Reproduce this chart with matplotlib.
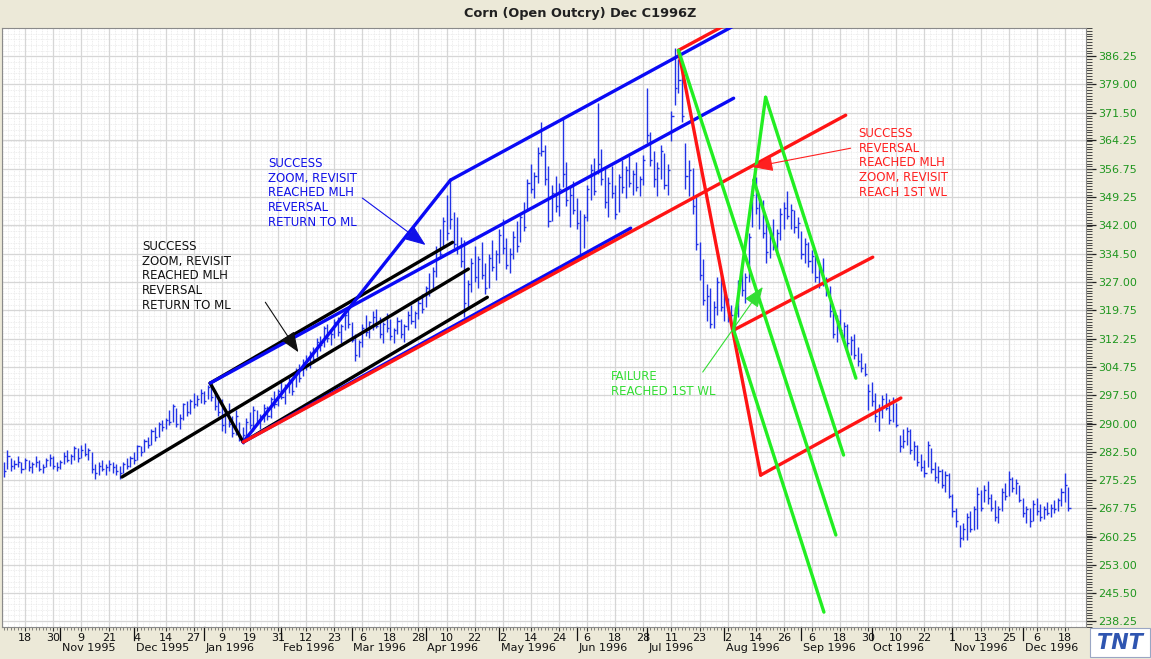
import numpy as np
import pandas as pd
import matplotlib
matplotlib.use("Agg")
import matplotlib.pyplot as plt
import matplotlib.transforms as mtransforms
from matplotlib.patches import Rectangle

# Trading calendar (exchange holidays removed)
first_day = "1995-10-10"
last_day = "1996-12-19"
holidays = ["1995-11-23", "1995-12-25", "1996-01-01", "1996-02-19", "1996-04-05",
            "1996-05-27", "1996-07-04", "1996-09-02", "1996-11-28"]

# Daily highs, one line per month (Oct 1995 .. Dec 1996)
highs = [
    280.0, 283.0, 281.0, 280.5, 281.5, 280.0, 281.0, 280.5, 280.0, 281.5, 280.5, 279.5, 281.0, 282.0, 281.5, 280.0,
    280.5, 282.5, 283.0, 282.0, 284.0, 283.5, 284.5, 285.0, 283.5, 282.5, 279.5, 280.0, 280.5, 279.5, 280.5, 280.0, 279.5, 279.0, 280.0, 281.0, 281.5,
    282.5, 284.5, 284.0, 286.0, 286.5, 288.5, 289.0, 290.5, 291.0, 291.5, 293.5, 295.0, 294.0, 292.5, 295.5, 296.0, 296.5, 298.0, 297.5, 299.0,
    298.5, 300.0, 300.5, 298.5, 297.0, 296.5, 294.0, 295.5, 292.0, 293.5, 290.5, 289.0, 291.5, 293.0, 294.5, 293.5, 292.5, 295.0, 294.5, 297.0, 298.5, 299.0,
    301.0, 300.5, 302.5, 302.0, 304.5, 305.5, 307.0, 308.0, 309.0, 310.0, 312.5, 313.0, 315.5, 316.0, 314.5, 317.5, 318.0, 316.0, 319.0, 320.0,
    316.5, 313.5, 312.0, 316.0, 318.5, 317.0, 319.5, 320.0, 318.0, 316.5, 319.0, 317.5, 315.0, 318.0, 317.5, 316.0, 319.5, 321.0, 319.5, 322.5, 324.0,
    326.0, 329.5, 331.0, 336.5, 341.0, 344.0, 350.0, 353.5, 345.5, 344.0, 339.0, 338.0, 327.5, 333.5, 336.5, 334.0, 337.5, 332.0, 334.5, 338.0, 335.5,
    341.0, 343.5, 338.5, 336.0, 340.5, 343.0, 345.0, 348.0, 354.0, 358.0, 356.0, 362.5, 369.0, 363.0, 357.5, 352.5, 355.0, 353.0, 370.0, 358.5, 352.0, 353.5,
    349.0, 346.0, 345.0, 352.5, 358.0, 359.5, 374.0, 362.0, 357.0, 354.5, 357.5, 352.5, 355.5, 359.0, 357.5, 360.0, 356.5, 358.5, 355.0, 360.5,
    378.0, 366.5, 361.5, 358.5, 363.0, 361.0, 358.0, 372.0, 388.5, 385.5, 383.5, 363.5, 359.0, 357.0, 349.5, 337.5, 333.0, 326.5, 325.5, 322.0, 328.5, 330.0,
    325.5, 323.0, 321.0, 320.5, 327.5, 331.0, 329.5, 340.0, 352.5, 354.5, 350.0, 348.5, 343.0, 341.5, 343.5, 341.0, 346.5, 348.0, 351.0, 347.5, 346.0, 344.0,
    340.5, 338.5, 337.5, 335.5, 334.0, 331.0, 333.5, 328.5, 326.0, 320.0, 318.5, 320.0, 316.5, 316.0, 313.0, 313.5, 310.0, 308.5, 306.0, 300.5,
    301.0, 298.0, 295.0, 297.5, 298.0, 296.5, 297.0, 295.5, 287.0, 288.5, 289.0, 288.5, 285.5, 284.5, 282.0, 280.5, 285.5, 283.5, 280.0, 279.0, 278.0, 277.5, 277.0,
    271.5, 268.0, 263.5, 264.0, 266.5, 267.0, 268.5, 273.5, 272.5, 274.0, 275.0, 271.5, 270.0, 268.5, 273.0, 274.5, 277.5, 276.0, 275.5, 274.0,
    270.5, 268.5, 268.0, 270.0, 270.5, 269.0, 268.5, 269.5, 269.0, 270.0, 270.5, 273.0, 277.0, 273.5,
]

lows = [
    276.0, 278.0, 277.5, 278.0, 278.5, 277.0, 278.0, 277.5, 277.0, 278.5, 277.5, 277.0, 278.5, 279.0, 278.0, 277.5,
    278.0, 279.5, 280.0, 279.5, 280.5, 280.0, 281.0, 281.5, 280.5, 277.0, 275.5, 276.5, 277.5, 276.5, 277.5, 277.0, 276.5, 275.5, 277.0, 278.0, 278.5,
    279.5, 280.5, 281.5, 282.5, 283.5, 284.5, 285.5, 286.5, 288.0, 288.5, 289.5, 290.5, 289.0, 288.5, 291.0, 292.0, 292.5, 294.0, 294.5, 295.5,
    295.0, 296.5, 296.0, 293.5, 292.0, 288.0, 287.5, 289.0, 286.5, 287.0, 285.5, 284.75, 286.0, 288.5, 288.0, 289.5, 288.5, 290.5, 291.0, 291.5, 294.0, 294.5,
    296.5, 295.0, 298.0, 297.5, 299.5, 301.0, 302.5, 304.0, 304.5, 306.0, 307.5, 309.0, 310.0, 311.5, 310.5, 312.5, 313.0, 311.0, 314.5, 315.0,
    311.5, 306.5, 307.5, 310.0, 313.0, 312.5, 314.5, 315.0, 312.5, 311.0, 314.0, 312.0, 311.0, 313.5, 312.5, 311.5, 314.5, 316.0, 315.0, 317.5, 319.0,
    320.5, 323.5, 325.0, 328.5, 333.5, 336.5, 338.0, 341.0, 336.0, 334.5, 331.0, 318.0, 320.0, 324.5, 327.0, 325.5, 328.0, 324.0, 325.5, 330.0, 327.5,
    332.0, 334.5, 330.5, 329.5, 333.0, 335.0, 337.5, 340.5, 346.0, 350.5, 349.0, 353.0, 360.0, 352.5, 341.5, 343.0, 345.5, 344.5, 352.0, 347.0, 341.5, 345.0,
    341.0, 333.0, 336.0, 343.0, 348.5, 350.0, 355.5, 352.5, 346.5, 344.0, 349.0, 343.5, 345.5, 350.5, 349.0, 352.0, 350.0, 351.0, 349.5, 352.5,
    363.5, 357.5, 352.0, 349.5, 354.0, 351.5, 350.0, 364.0, 373.5, 376.5, 369.0, 351.5, 349.5, 345.0, 335.5, 327.5, 321.0, 317.0, 315.0, 315.0, 318.5, 319.5,
    317.0, 316.5, 315.5, 314.25, 318.0, 323.5, 321.5, 327.0, 341.5, 345.0, 341.0, 338.5, 332.0, 333.5, 335.5, 334.0, 338.0, 341.0, 343.5, 341.0, 340.0, 338.5,
    333.0, 332.0, 331.0, 329.5, 327.0, 325.5, 326.0, 323.5, 318.0, 312.5, 311.5, 313.5, 311.0, 309.5, 308.0, 307.0, 305.0, 303.5, 302.5, 293.5,
    294.5, 290.5, 288.0, 291.5, 293.5, 290.0, 290.5, 289.0, 282.5, 283.5, 284.5, 282.0, 280.5, 279.0, 277.5, 276.0, 278.5, 277.0, 275.0, 274.5, 273.0, 272.0, 270.5,
    265.5, 263.0, 257.75, 259.5, 259.5, 261.5, 262.0, 262.5, 267.0, 269.5, 269.0, 267.0, 264.5, 264.0, 267.0, 270.0, 271.0, 272.0, 271.5, 269.5,
    265.5, 264.0, 263.0, 264.5, 266.0, 264.5, 265.0, 266.0, 265.5, 266.5, 267.0, 268.5, 269.5, 267.0,
]

closes = [
    277.5, 281.5, 279.0, 279.5, 280.0, 278.0, 280.5, 278.5, 279.5, 280.0, 278.0, 278.5, 280.5, 281.0, 279.0, 278.5,
    280.0, 281.5, 280.5, 281.5, 283.5, 281.0, 283.0, 282.0, 283.0, 278.0, 277.0, 279.0, 278.0, 278.5, 279.5, 278.5, 277.5, 277.0, 279.5, 279.0, 281.0,
    280.5, 284.0, 282.5, 285.5, 284.5, 288.0, 286.5, 290.0, 289.0, 291.0, 290.5, 294.5, 290.0, 291.5, 295.0, 293.0, 296.0, 295.0, 296.5, 298.0,
    296.0, 299.5, 297.0, 294.5, 293.0, 289.5, 292.5, 290.0, 287.5, 292.0, 286.5, 287.0, 290.5, 289.5, 293.5, 290.5, 292.0, 294.0, 292.0, 296.5, 295.0, 298.5,
    297.0, 299.5, 301.5, 298.5, 304.0, 302.0, 306.0, 305.0, 308.5, 307.0, 311.5, 310.5, 315.0, 312.5, 313.5, 316.5, 314.0, 315.5, 318.5, 316.0,
    312.0, 308.0, 311.5, 315.0, 314.0, 316.5, 318.0, 315.5, 313.5, 316.0, 315.0, 313.0, 314.5, 317.0, 313.5, 315.5, 318.5, 317.0, 319.0, 321.5, 320.0,
    325.5, 324.5, 330.0, 335.5, 334.5, 343.0, 340.0, 343.5, 337.0, 336.0, 332.5, 321.5, 326.5, 332.0, 328.5, 333.0, 329.0, 325.5, 333.5, 331.0, 334.5,
    339.5, 336.0, 331.5, 334.5, 339.0, 336.5, 344.0, 341.5, 353.0, 351.5, 355.0, 361.0, 361.5, 354.0, 343.0, 350.5, 347.0, 351.5, 355.5, 348.5, 350.0, 346.0,
    342.5, 334.5, 344.0, 351.5, 356.5, 351.0, 358.0, 354.0, 348.0, 353.0, 350.5, 345.0, 354.5, 352.0, 356.5, 353.0, 355.5, 352.0, 354.0, 359.0,
    365.5, 359.0, 354.0, 357.0, 361.5, 352.5, 356.5, 370.5, 378.0, 380.0, 370.5, 355.0, 356.5, 347.0, 337.0, 329.0, 322.5, 323.5, 316.0, 320.5, 327.0, 320.5,
    324.0, 317.5, 318.5, 319.0, 326.5, 325.0, 328.5, 339.0, 350.0, 346.5, 348.5, 340.0, 335.0, 339.5, 337.0, 340.0, 345.0, 346.5, 344.5, 346.0, 341.5, 342.5,
    334.5, 337.0, 332.5, 334.0, 328.5, 330.0, 327.5, 325.0, 319.5, 313.5, 317.0, 314.5, 315.5, 311.0, 312.0, 308.0, 306.5, 304.5, 303.0, 298.5,
    296.0, 292.0, 293.5, 296.5, 294.0, 291.0, 296.0, 289.5, 284.0, 285.5, 288.0, 283.0, 284.0, 280.0, 278.5, 277.0, 284.5, 278.0, 276.0, 277.5, 274.0, 276.5, 271.0,
    267.0, 264.5, 260.0, 262.5, 265.5, 262.5, 267.5, 271.5, 268.0, 272.5, 270.5, 268.0, 265.5, 267.5, 272.0, 271.0, 275.5, 273.0, 274.5, 270.0,
    266.5, 267.5, 264.5, 269.0, 267.0, 265.5, 267.5, 266.5, 268.0, 267.5, 270.0, 272.0, 274.0, 268.0,
]

# Dated axis labels (every 8th session) and price scale labels
tick_dates = ["1995-10-18", "1995-10-30", "1995-11-09", "1995-11-21", "1995-12-04", "1995-12-14",
              "1995-12-27", "1996-01-09", "1996-01-19", "1996-01-31", "1996-02-12", "1996-02-23",
              "1996-03-06", "1996-03-18", "1996-03-28", "1996-04-10", "1996-04-22", "1996-05-02",
              "1996-05-14", "1996-05-24", "1996-06-06", "1996-06-18", "1996-06-28", "1996-07-11",
              "1996-07-23", "1996-08-02", "1996-08-14", "1996-08-26", "1996-09-06", "1996-09-18",
              "1996-09-30", "1996-10-10", "1996-10-22", "1996-11-01", "1996-11-13", "1996-11-25",
              "1996-12-06", "1996-12-18"]
y_ticks = [386.25, 379.00, 371.50, 364.25, 356.75, 349.25, 342.00, 334.50, 327.00, 319.75, 312.25,
           304.75, 297.50, 290.00, 282.50, 275.25, 267.75, 260.25, 253.00, 245.50, 238.25]

# Pitchfork drawings: (session from, price from, session to, price to)
black_lines = [(58.7, 300.6, 68.1, 285.15),    # pivot connector
               (33.6, 276.0, 132.2, 330.5),    # median line
               (58.7, 300.6, 127.7, 337.5),    # upper parallel
               (68.1, 285.15, 137.6, 323.1)]   # lower parallel
blue_lines = [(68.1, 285.15, 127.1, 353.8),
              (58.7, 300.6, 207.7, 375.25),
              (127.1, 353.8, 209.7, 395.2),
              (68.1, 285.15, 178.4, 341.2)]
red_lines = [(68.1, 285.15, 239.6, 370.8),
             (192.0, 387.8, 208.3, 395.9),
             (192.0, 387.8, 215.4, 276.5),
             (207.7, 314.5, 247.3, 333.6),
             (215.4, 276.5, 255.3, 296.7)]
green_lines = [(207.7, 314.5, 216.8, 375.5),
               (216.8, 375.5, 242.5, 301.9),
               (192.0, 387.8, 236.8, 260.8),
               (213.4, 353.8, 239.0, 281.75),
               (207.7, 314.5, 233.4, 240.6)]

# Chart notes: text, colour, top-left anchor, arrow tail, arrow head
notes = [
    ("SUCCESS\nZOOM, REVISIT\nREACHED MLH\nREVERSAL\nRETURN TO ML", "#1010E8",
     (75.2, 359.8), (102.0, 349.1), (120.0, 336.8)),
    ("SUCCESS\nZOOM, REVISIT\nREACHED MLH\nREVERSAL\nRETURN TO ML", "#111111",
     (39.3, 338.05), (74.4, 321.8), (83.8, 308.7)),
    ("SUCCESS\nREVERSAL\nREACHED MLH\nZOOM, REVISIT\nREACH 1ST WL", "#FF2020",
     (243.3, 367.65), (241.0, 362.15), (213.1, 357.2)),
    ("FAILURE\nREACHED 1ST WL", "#33DD33",
     (172.7, 304.0), (198.9, 303.5), (216.0, 325.8)),
]

title = "Corn (Open Outcry) Dec C1996Z"

panel_bg = "#ECE9D8"
bar_color = "#2233E6"

days = pd.bdate_range(first_day, last_day)
days = days[~days.isin(pd.to_datetime(holidays))]
n = min(len(days), len(highs))
days = days[:n]
x = np.arange(n)

W, H = 1151, 659
fig = plt.figure(figsize=(W / 100, H / 100), dpi=100)
fig.patch.set_facecolor(panel_bg)
ax = fig.add_axes([2 / W, (H - 627) / H, (1086 - 2) / W, (627 - 28) / H])
ax.set_facecolor("white")
ax.set_xlim(-0.55, 308.0)
ax.set_ylim(236.7, 393.6)

# fine dotted mesh behind the major grid
tick_idx = days.get_indexer(pd.to_datetime(tick_dates))
xs_minor = np.arange(tick_idx[0] - 8, 312, 1.6)
ys_minor = np.arange(y_ticks[-1] - 7.4, 396, 1.48)
ax.vlines(xs_minor, 230, 400, colors="#E8E8E8", linestyles=(0, (1, 1)), lw=0.6, zorder=0)
ax.hlines(ys_minor, -5, 315, colors="#E8E8E8", linestyles=(0, (1, 1)), lw=0.6, zorder=0)
ax.set_axisbelow(True)
ax.grid(True, which="major", color="#D6D6D6", lw=0.9)

# HLC bars
ax.vlines(x, lows[:n], highs[:n], color=bar_color, lw=1.0, zorder=3)
ax.hlines(closes[:n], x, x + 0.6, color=bar_color, lw=1.0, zorder=3)

for segs, col in [(black_lines, "#000000"), (blue_lines, "#0A0AF5"),
                  (red_lines, "#FF1414"), (green_lines, "#22EE22")]:
    for x0, y0, x1, y1 in segs:
        ax.plot([x0, x1], [y0, y1], color=col, lw=2.4, solid_capstyle="round", zorder=4)

for text, col, (tx, ty), tail, head in notes:
    ax.text(tx, ty, text, color=col, fontsize=8.5, ha="left", va="top",
            linespacing=1.16, zorder=6)
    ax.annotate("", xy=head, xytext=tail, zorder=6,
                arrowprops=dict(arrowstyle="-|>,head_length=0.9,head_width=0.35",
                                color=col, lw=0.8, mutation_scale=14,
                                shrinkA=0, shrinkB=0))

# date axis
ax.set_xticks(tick_idx)
ax.set_xticklabels([str(d.day) for d in pd.to_datetime(tick_dates)])
ax.set_xticks(x, minor=True)
ax.tick_params(axis="x", which="major", length=3, width=0.8, pad=1, labelsize=8,
               color="#333333", labelcolor="#111111")
ax.tick_params(axis="x", which="minor", length=2, width=0.5, color="#555555")

trans = mtransforms.blended_transform_factory(ax.transData, ax.transAxes)
month_start = [i for i in range(1, n) if days[i].month != days[i - 1].month]
for i in month_start:
    ax.plot([i, i], [0, -0.022], color="#111111", lw=0.9, transform=trans, clip_on=False)
    ax.text(i + 0.5, -0.026, days[i].strftime("%b %Y"), transform=trans, fontsize=8,
            ha="left", va="top", color="#111111")

# price axis on the right
ax.yaxis.tick_right()
ax.set_yticks(y_ticks)
ax.set_yticklabels([f"{v:.2f}" for v in y_ticks])
ax.set_yticks(np.arange(y_ticks[-1] - 1.48, 394, 0.74), minor=True)
ax.tick_params(axis="y", which="major", length=7, width=0.9, pad=2, labelsize=8,
               color="#222222", labelcolor="#1E961E")
ax.tick_params(axis="y", which="minor", length=4, width=0.7, color="#444444")

for side in ["left", "top", "bottom", "right"]:
    ax.spines[side].set_color("#8A8A8A")
    ax.spines[side].set_linewidth(0.8)

fig.text(580 / W, 1 - 14 / H, title, ha="center", va="center", fontsize=9.3,
         fontweight="bold", color="#202020")

# vendor badge in the corner
fig.patches.append(Rectangle((1090 / W, 2 / H), 60 / W, 29 / H, transform=fig.transFigure,
                             facecolor="white", edgecolor="#9AA6C4", lw=0.8))
fig.text(1120 / W, 16 / H, "TNT", ha="center", va="center", fontsize=15, fontweight="bold",
         fontstyle="italic", color="#2F55B0")

fig.savefig("out.png", dpi=100, facecolor=fig.get_facecolor())
